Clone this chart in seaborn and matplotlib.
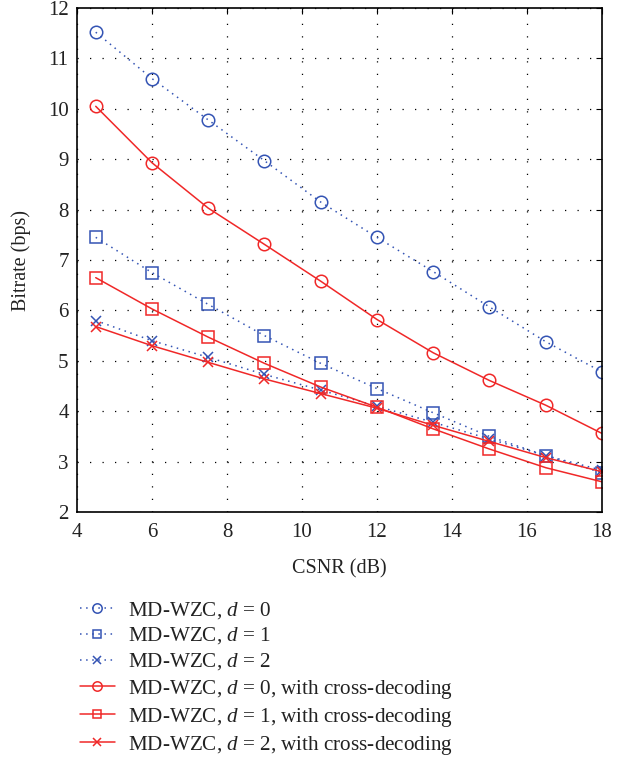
import pandas as pd
import matplotlib.pyplot as plt
import seaborn as sns

csnr = [4.5, 6, 7.5, 9, 10.5, 12, 13.5, 15, 16.5, 18]

wzc_d0 = [11.52, 10.60, 9.78, 8.97, 8.15, 7.45, 6.77, 6.07, 5.38, 4.78]
wzc_d1 = [7.45, 6.75, 6.12, 5.50, 4.95, 4.45, 3.97, 3.50, 3.12, 2.78]
wzc_d2 = [5.80, 5.40, 5.07, 4.73, 4.42, 4.10, 3.78, 3.45, 3.12, 2.83]
cross_d0 = [10.05, 8.93, 8.03, 7.31, 6.58, 5.82, 5.16, 4.61, 4.12, 3.56]
cross_d1 = [6.65, 6.03, 5.47, 4.95, 4.48, 4.08, 3.65, 3.25, 2.88, 2.60]
cross_d2 = [5.68, 5.30, 4.97, 4.64, 4.35, 4.06, 3.72, 3.40, 3.08, 2.80]

labels = [
    "MD-WZC, $d$ = 0",
    "MD-WZC, $d$ = 1",
    "MD-WZC, $d$ = 2",
    "MD-WZC, $d$ = 0, with cross-decoding",
    "MD-WZC, $d$ = 1, with cross-decoding",
    "MD-WZC, $d$ = 2, with cross-decoding",
]
series = [wzc_d0, wzc_d1, wzc_d2, cross_d0, cross_d1, cross_d2]

BLUE = "#3454b4"
RED = "#f02828"
styles = [
    (BLUE, "o", (0, (1, 3))),
    (BLUE, "s", (0, (1, 3))),
    (BLUE, "x", (0, (1, 3))),
    (RED, "o", "-"),
    (RED, "s", "-"),
    (RED, "x", "-"),
]

rows = []
for lab, vals in zip(labels, series):
    for x, y in zip(csnr, vals):
        rows.append({"CSNR": x, "Bitrate": y, "Scheme": lab})
df = pd.DataFrame(rows)

sns.set_style("white")
plt.rcParams["font.family"] = ["Liberation Serif", "DejaVu Serif"]
plt.rcParams["mathtext.fontset"] = "custom"
plt.rcParams["mathtext.it"] = "Liberation Serif:italic"
plt.rcParams["mathtext.rm"] = "Liberation Serif"

fig = plt.figure(figsize=(6.29, 7.57), dpi=100)
ax = fig.add_axes([0.1224, 0.3236, 0.8346, 0.6658])

for lab, (col, mk, ls) in zip(labels, styles):
    sub = df[df["Scheme"] == lab]
    sns.lineplot(data=sub, x="CSNR", y="Bitrate", ax=ax, color=col,
                 marker=mk, linestyle=ls, linewidth=1.1,
                 markersize=9 if mk == "o" else (8 if mk == "s" else 7),
                 markerfacecolor="none" if mk != "x" else col,
                 markeredgecolor=col, markeredgewidth=1.1, label=lab)

ax.set_xlim(4, 18)
ax.set_ylim(2, 12)
ax.set_xticks(range(4, 19, 2))
ax.set_yticks(range(2, 13))
ax.grid(True, color="black", linestyle=(0, (1, 9)), linewidth=0.9)
ax.tick_params(direction="in", length=4, labelsize=15, top=True, right=True,
               color="black", labelcolor="#222222")
ax.tick_params(axis="x", pad=8)
ax.tick_params(axis="y", pad=6)
for sp in ax.spines.values():
    sp.set_color("black")
    sp.set_linewidth(1.2)
ax.set_xlabel("CSNR (dB)", fontsize=14.5, color="#222222", labelpad=12)
ax.set_ylabel("Bitrate (bps)", fontsize=14.5, color="#222222", labelpad=12)

handles, labs = ax.get_legend_handles_labels()
ax.get_legend().remove()
fig.legend(handles, labs, loc="upper left", bbox_to_anchor=(0.097, 0.233),
           frameon=False, fontsize=15.2, handlelength=1.65, labelspacing=0.24,
           handletextpad=0.6, markerscale=0.75, labelcolor="#222222")

fig.savefig("out.png", dpi=100)
